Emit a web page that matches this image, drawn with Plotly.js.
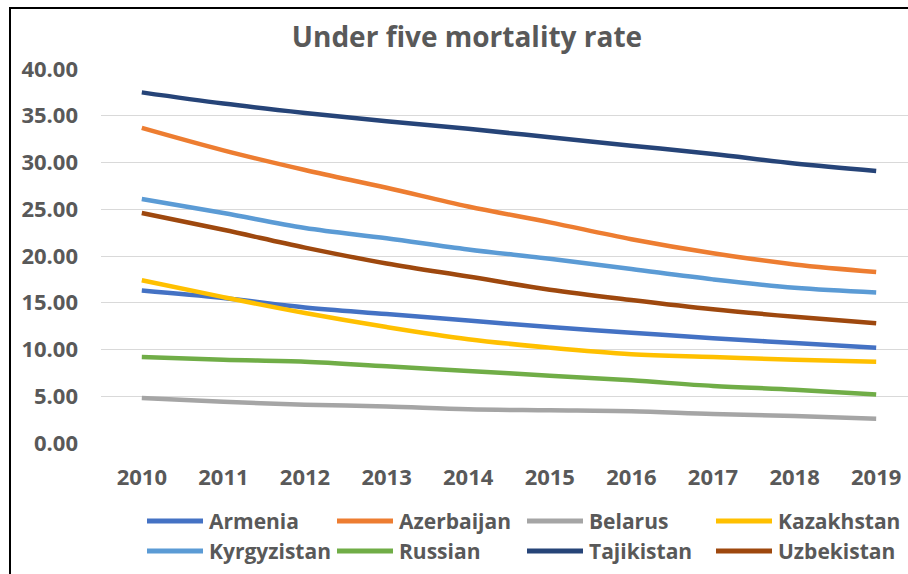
<!DOCTYPE html>
<html>
<head>
<meta charset="utf-8">
<script src="https://cdn.plot.ly/plotly-3.0.1.min.js"></script>
<style>
html,body{margin:0;padding:0;background:#fff;overflow:hidden;}
#wrap{position:relative;width:908px;height:574px;}
#chart{position:absolute;left:0;top:0;width:908px;height:574px;}
#frame{position:absolute;left:9px;top:7px;right:0;bottom:0;border-top:2px solid #000;border-left:2px solid #000;pointer-events:none;}
</style>
</head>
<body>
<div id="wrap"><div id="chart"></div><div id="frame"></div></div>
<script>
const years = ['2010','2011','2012','2013','2014','2015','2016','2017','2018','2019'];
const armenia     = [16.3, 15.5, 14.5, 13.8, 13.1, 12.4, 11.8, 11.2, 10.7, 10.2];
const azerbaijan  = [33.7, 31.3, 29.2, 27.3, 25.3, 23.6, 21.8, 20.3, 19.1, 18.3];
const belarus     = [4.8, 4.4, 4.1, 3.9, 3.6, 3.5, 3.4, 3.1, 2.9, 2.6];
const kazakhstan  = [17.4, 15.6, 13.9, 12.4, 11.1, 10.2, 9.5, 9.2, 8.9, 8.7];
const kyrgyzistan = [26.1, 24.6, 23.0, 21.9, 20.7, 19.7, 18.6, 17.5, 16.6, 16.1];
const russian     = [9.2, 8.9, 8.7, 8.2, 7.7, 7.2, 6.7, 6.1, 5.7, 5.2];
const tajikistan  = [37.5, 36.3, 35.3, 34.4, 33.6, 32.7, 31.8, 30.9, 29.9, 29.1];
const uzbekistan  = [24.6, 22.8, 20.9, 19.2, 17.8, 16.4, 15.3, 14.3, 13.5, 12.8];
const yTicks = [0, 5, 10, 15, 20, 25, 30, 35, 40];

const names  = ['Armenia','Azerbaijan','Belarus','Kazakhstan','Kyrgyzistan','Russian','Tajikistan','Uzbekistan'];
const values = [armenia, azerbaijan, belarus, kazakhstan, kyrgyzistan, russian, tajikistan, uzbekistan];
const colors = ['#4472C4','#ED7D31','#A5A5A5','#FFC000','#5B9BD5','#70AD47','#264478','#9E480E'];

const traces = names.map((n, i) => ({
  type:'scatter', mode:'lines', name:n, x:years, y:values[i],
  line:{color:colors[i], width:4.5, shape:'spline', smoothing:1},
  hoverinfo:'skip', showlegend:false
}));

// pixel geometry of the plot area
const W = 908, H = 574, L = 101, R = 908, T = 69, B = 443;
const px2x = p => (p - L) / (R - L);
const py2y = p => (B - p) / (B - T);

// custom legend (Excel style: long line samples)
const colStart = [147, 337, 527, 716];
const rowY = [521, 551];
const shapes = [], annotations = [];
names.forEach((n, i) => {
  const c = i % 4, r = Math.floor(i / 4);
  const x0 = colStart[c], y = rowY[r];
  shapes.push({type:'line', xref:'paper', yref:'paper', x0:px2x(x0), x1:px2x(x0 + 56),
    y0:py2y(y), y1:py2y(y), line:{color:colors[i], width:5}, layer:'above'});
  annotations.push({xref:'paper', yref:'paper', x:px2x(x0 + 60), y:py2y(y), xanchor:'left', yanchor:'middle',
    text:n, showarrow:false, font:{family:'Open Sans, sans-serif', size:21, color:'#595959', weight:'bold'}});
});

const tickFont = {family:'Open Sans, sans-serif', size:22, color:'#595959', weight:'bold'};

const layout = {
  width:W, height:H,
  margin:{l:L, r:W - R, t:T, b:H - B, pad:0},
  paper_bgcolor:'#ffffff', plot_bgcolor:'#ffffff',
  title:{text:'Under five mortality rate', x:467/W, xref:'container', xanchor:'center',
         y:1 - 37/H, yref:'container', yanchor:'middle',
         font:{family:'Open Sans, sans-serif', size:28, color:'#595959', weight:'bold'}},
  xaxis:{type:'category', range:[-0.5, 9.39], showgrid:false, zeroline:false, showline:false,
         ticks:'', tickfont:tickFont, ticklabelstandoff:19, fixedrange:true},
  yaxis:{range:[0,40], tickvals:yTicks, tickformat:'.2f', showgrid:true, gridcolor:'#D9D9D9', gridwidth:1,
         zeroline:false, showline:false, ticks:'', tickfont:tickFont, ticklabelstandoff:22, fixedrange:true},
  showlegend:false,
  shapes:shapes,
  annotations:annotations
};

Plotly.newPlot('chart', traces, layout, {displayModeBar:false, staticPlot:true});
</script>
</body>
</html>
